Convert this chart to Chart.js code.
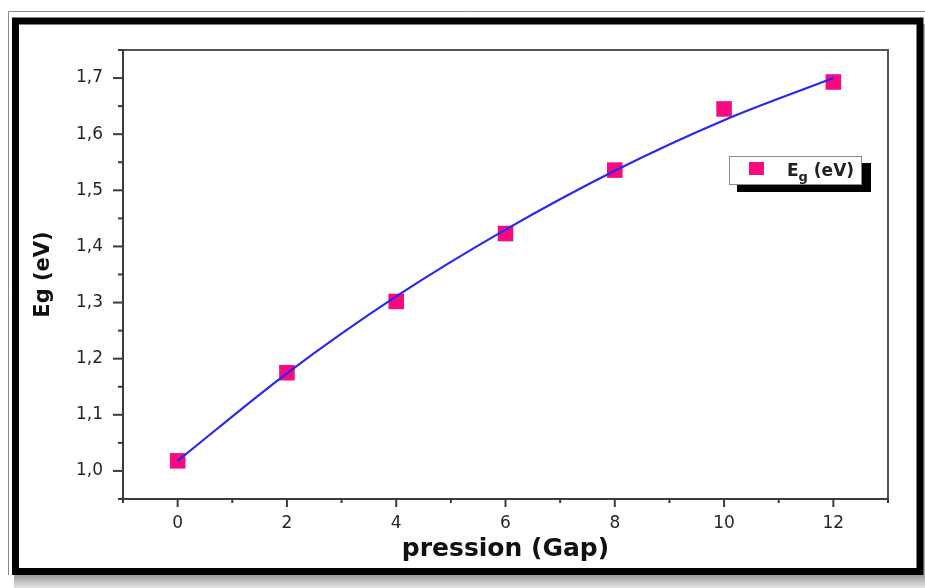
<!DOCTYPE html>
<html>
<head>
<meta charset="utf-8">
<script src="https://cdn.jsdelivr.net/npm/chart.js@4.4.0/dist/chart.umd.min.js"></script>
<style>
  html, body { margin: 0; padding: 0; background: #fff; }
  #wrap { width: 925px; height: 588px; }
</style>
</head>
<body>
<div id="wrap"><canvas id="chart" width="925" height="588"></canvas></div>
<script>
(() => {
  'use strict'

  // pression values and measured gap
  const pression = [0, 2, 4, 6, 8, 10, 12]
  const egMesure = [1.018, 1.175, 1.302, 1.423, 1.536, 1.645, 1.693]
  // fitted curve at the same pressions
  const egFit = [1.018, 1.174, 1.311, 1.430, 1.535, 1.625, 1.700]

  const serieLabel = 'Eg (eV)'
  const xTitre = 'pression (Gap)'
  const yTitre = 'Eg (eV)'

  const rose = '#f80a80'
  const bleu = '#2828f2'
  const axe = '#3c3c3c'

  const estMajeurX = v => v >= 0 && v <= 12 && Math.round(v) % 2 === 0
  const estMajeurY = v => Math.round(v * 100) % 10 === 0

  const cadre = {
    id: 'cadre',
    beforeDraw(chart) {
      const c = chart.ctx
      c.save()
      c.fillStyle = '#fff'
      c.fillRect(0, 0, chart.width, chart.height)
      // ombre grise sous le cadre
      const g = c.createLinearGradient(0, 575, 0, 588)
      g.addColorStop(0, '#9a9a9a')
      g.addColorStop(1, '#e6e6e6')
      c.fillStyle = g
      c.fillRect(14, 575, 911, 13)
      c.fillStyle = '#b0b0b0'
      c.fillRect(923, 24, 2, 551)
      // fine ligne grise extérieure
      c.strokeStyle = '#8a8a8a'
      c.lineWidth = 1
      c.beginPath()
      c.moveTo(8.5, 575)
      c.lineTo(8.5, 11.5)
      c.lineTo(925, 11.5)
      c.stroke()
      // cadre noir épais
      c.strokeStyle = '#000'
      c.lineWidth = 7
      c.strokeRect(15.5, 21, 904.5, 550.5)
      c.restore()
    },
    afterDraw(chart) {
      const c = chart.ctx
      const a = chart.chartArea
      const xs = chart.scales.x
      const ys = chart.scales.y
      c.save()
      // boîte du graphe
      c.strokeStyle = '#555'
      c.lineWidth = 2
      c.beginPath()
      c.moveTo(a.left, a.top)
      c.lineTo(a.right, a.top)
      c.lineTo(a.right, a.bottom)
      c.stroke()
      c.strokeStyle = axe
      c.beginPath()
      c.moveTo(a.left, a.top - 1)
      c.lineTo(a.left, a.bottom)
      c.lineTo(a.right + 1, a.bottom)
      c.stroke()
      // graduations vers l'extérieur
      xs.ticks.forEach(t => {
        const px = xs.getPixelForValue(t.value)
        const l = estMajeurX(t.value) ? 8 : 4
        c.beginPath()
        c.moveTo(px, a.bottom)
        c.lineTo(px, a.bottom + l)
        c.stroke()
      })
      ys.ticks.forEach(t => {
        const py = ys.getPixelForValue(t.value)
        const l = estMajeurY(t.value) ? 10 : 5
        c.beginPath()
        c.moveTo(a.left, py)
        c.lineTo(a.left - l, py)
        c.stroke()
      })

      // légende
      c.fillStyle = '#000'
      c.fillRect(737, 163, 134, 29)
      c.fillStyle = '#fff'
      c.fillRect(729, 156, 133, 29)
      c.strokeStyle = '#8c8c8c'
      c.lineWidth = 1
      c.strokeRect(729.5, 156.5, 132, 28)
      c.fillStyle = rose
      c.fillRect(749, 162, 15, 13)
      c.fillStyle = '#222'
      c.textBaseline = 'alphabetic'
      const lettre = serieLabel.slice(0, 1)
      const indice = serieLabel.slice(1, 2)
      const reste = serieLabel.slice(2)
      c.font = 'bold 17px "DejaVu Sans"'
      c.fillText(lettre, 787, 176)
      let x = 787 + c.measureText(lettre).width
      c.font = 'bold 13px "DejaVu Sans"'
      c.fillText(indice, x, 181)
      x += c.measureText(indice).width
      c.font = 'bold 17px "DejaVu Sans"'
      c.fillText(reste, x, 176)
      c.restore()
    }
  }

  new Chart(document.getElementById('chart'), {
    type: 'scatter',
    data: {
      datasets: [
        {
          type: 'line',
          label: 'fit',
          data: pression.map((p, i) => ({ x: p, y: egFit[i] })),
          borderColor: bleu,
          borderWidth: 2.2,
          pointRadius: 0,
          cubicInterpolationMode: 'monotone',
          fill: false,
          order: 0
        },
        {
          label: serieLabel,
          data: pression.map((p, i) => ({ x: p, y: egMesure[i] })),
          pointStyle: 'rect',
          pointRadius: 11,
          pointHoverRadius: 11,
          backgroundColor: rose,
          borderColor: rose,
          borderWidth: 0,
          order: 1
        }
      ]
    },
    options: {
      responsive: false,
      animation: false,
      events: [],
      layout: { padding: { left: 0, top: 50, right: 37, bottom: 0 } },
      plugins: {
        legend: { display: false },
        tooltip: { enabled: false }
      },
      scales: {
        x: {
          type: 'linear',
          min: -1,
          max: 13,
          border: { display: false },
          grid: { display: false, drawTicks: false },
          afterFit: s => { s.height = 89 },
          ticks: {
            stepSize: 1,
            autoSkip: false,
            maxRotation: 0,
            padding: 14,
            color: '#262626',
            font: { family: '"DejaVu Sans"', size: 17 },
            callback: v => estMajeurX(v) ? String(v) : ''
          },
          title: {
            display: true,
            text: xTitre,
            color: '#111',
            font: { family: '"DejaVu Sans"', size: 25, weight: 'bold' },
            padding: { top: 24, bottom: 24 }
          }
        },
        y: {
          type: 'linear',
          min: 0.95,
          max: 1.75,
          border: { display: false },
          grid: { display: false, drawTicks: false },
          afterFit: s => { s.width = 123 },
          ticks: {
            stepSize: 0.05,
            autoSkip: false,
            padding: 20,
            color: '#262626',
            font: { family: '"DejaVu Sans"', size: 17 },
            callback: v => estMajeurY(v) ? v.toFixed(1).replace('.', ',') : ''
          },
          title: {
            display: true,
            text: yTitre,
            color: '#111',
            font: { family: '"DejaVu Sans"', size: 21, weight: 'bold' },
            padding: { top: 31, bottom: 0 }
          }
        }
      }
    },
    plugins: [cadre]
  })
})()
</script>
</body>
</html>
